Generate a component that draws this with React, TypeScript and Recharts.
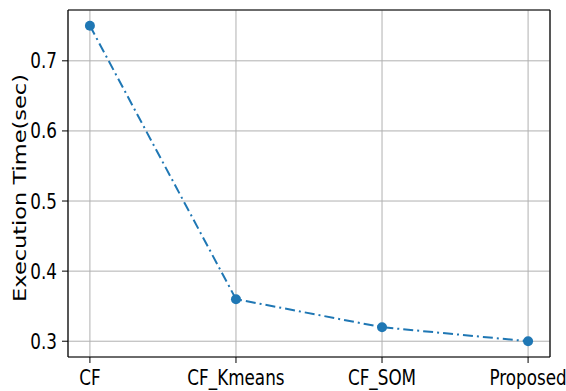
import React from 'react';
import { LineChart, Line, XAxis, YAxis, CartesianGrid, Label, ReferenceLine } from 'recharts';

const categories = ['CF', 'CF_Kmeans', 'CF_SOM', 'Proposed'];
const executionTime = [0.75, 0.36, 0.32, 0.3];
const yTicks = [0.3, 0.4, 0.5, 0.6, 0.7];

const data = categories.map((name, i) => ({ idx: i, name, time: executionTime[i] }));

const FONT = 'DejaVu Sans';
const SQUEEZE = 0.82;
const X_DOMAIN: [number, number] = [-0.15, 3.15];
const Y_DOMAIN: [number, number] = [0.2775, 0.7725];

const XTick = ({ x, y, payload }: any) => (
  <text
    transform={`translate(${x},${y + 22}) scale(${SQUEEZE},1)`}
    textAnchor="middle"
    fontFamily={FONT}
    fontSize={20.5}
    fill="#000"
  >
    {categories[payload.value]}
  </text>
);

const YTick = ({ y, payload }: any) => (
  <text
    transform={`translate(57,${y + 7.5}) scale(${SQUEEZE},1)`}
    textAnchor="end"
    fontFamily={FONT}
    fontSize={20.5}
    fill="#000"
  >
    {payload.value.toFixed(1)}
  </text>
);

const YLabel = () => (
  <text
    transform="translate(26,188) rotate(-90) scale(1,0.78)"
    textAnchor="middle"
    fontFamily={FONT}
    fontSize={22.5}
    fill="#000"
  >
    Execution Time(sec)
  </text>
);

export default function App() {
  return (
    <div style={{ position: 'absolute', left: 0, top: 0, background: '#fff' }}>
      <LineChart width={566} height={391} data={data} margin={{ top: 10, right: 16, left: 0, bottom: 0 }}>
        <CartesianGrid stroke="#b0b0b0" strokeWidth={1} />
        <XAxis
          dataKey="idx"
          type="number"
          domain={X_DOMAIN}
          ticks={[0, 1, 2, 3]}
          height={34}
          tickSize={6}
          tickMargin={0}
          tick={<XTick />}
          axisLine={{ stroke: '#000', strokeWidth: 1.2 }}
          tickLine={{ stroke: '#000' }}
          allowDataOverflow
        />
        <YAxis
          type="number"
          domain={Y_DOMAIN}
          ticks={yTicks}
          width={68}
          tickSize={6}
          tickMargin={0}
          tick={<YTick />}
          axisLine={{ stroke: '#000', strokeWidth: 1.2 }}
          tickLine={{ stroke: '#000' }}
          allowDataOverflow
        >
          <Label content={<YLabel />} />
        </YAxis>
        {/* top and right spines */}
        <ReferenceLine y={Y_DOMAIN[1]} stroke="#000" strokeWidth={1.2} ifOverflow="visible" />
        <ReferenceLine x={X_DOMAIN[1]} stroke="#000" strokeWidth={1.2} ifOverflow="visible" />
        <Line
          type="linear"
          dataKey="time"
          stroke="#1f77b4"
          strokeWidth={2}
          strokeDasharray="10 4 2 4"
          dot={{ r: 5, fill: '#1f77b4', stroke: '#1f77b4', strokeWidth: 0, strokeDasharray: '' }}
          isAnimationActive={false}
        />
      </LineChart>
    </div>
  );
}
